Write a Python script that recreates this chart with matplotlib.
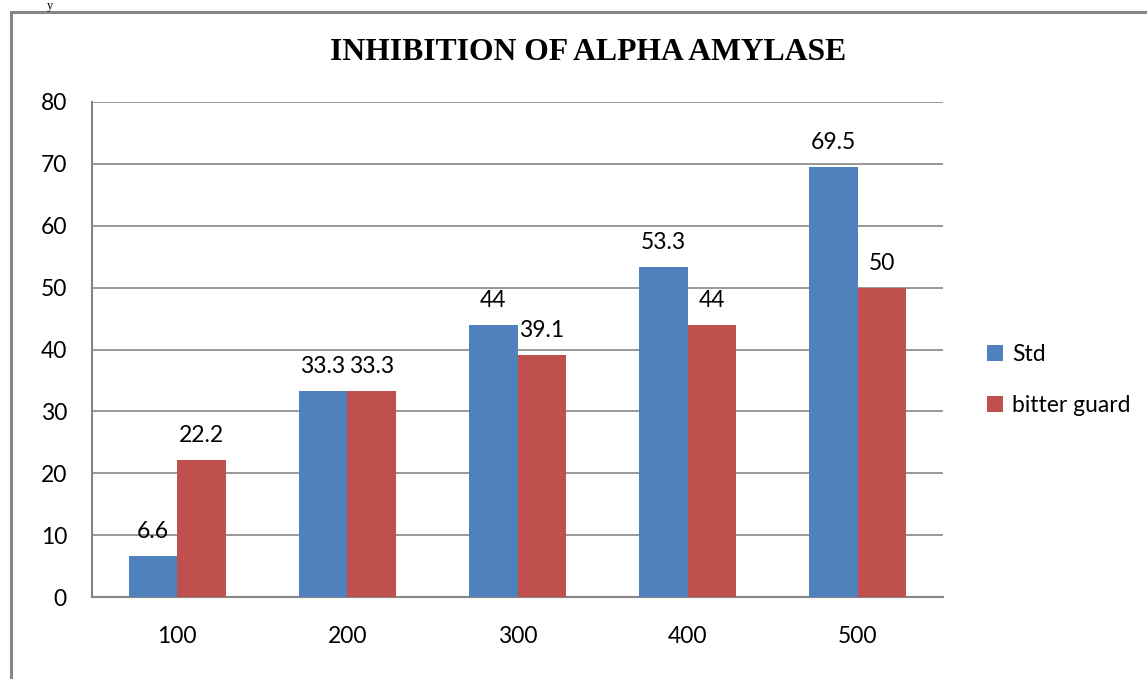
import matplotlib
matplotlib.use("Agg")
import matplotlib.pyplot as plt
import numpy as np
from matplotlib.patches import Rectangle

categories = ["100", "200", "300", "400", "500"]
std_vals = [6.6, 33.3, 44, 53.3, 69.5]
bg_vals = [22.2, 33.3, 39.1, 44, 50]
series_names = ["Std", "bitter guard"]
yticks = [0, 10, 20, 30, 40, 50, 60, 70, 80]

blue = "#4F81BD"
red = "#C0504D"
gray = "#868686"
font = "Lato"
fs = 16.5

fig = plt.figure(figsize=(11.47, 6.79), dpi=100)
ax = fig.add_axes([92/1147, 1-597/679, (943-92)/1147, (597-102)/679])

x = np.arange(len(categories))
w = 0.285
b1 = ax.bar(x - w/2, std_vals, w, color=blue, label=series_names[0], zorder=3)
b2 = ax.bar(x + w/2, bg_vals, w, color=red, label=series_names[1], zorder=3)

for bars, vals in ((b1, std_vals), (b2, bg_vals)):
    for r, v in zip(bars, vals):
        ax.annotate(f"{v:g}", (r.get_x() + r.get_width()/2, v), xytext=(0, 10),
                    textcoords="offset points", ha="center", va="bottom",
                    fontsize=fs, family=font, color="black")

ax.set_xlim(-0.5, len(categories) - 0.5)
ax.set_ylim(0, 80)
ax.set_yticks(yticks)
ax.set_xticks(x)
ax.set_xticklabels(categories)
ax.tick_params(length=0, labelsize=fs, pad=21)
ax.tick_params(axis="y", pad=18)
for lab in ax.get_xticklabels() + ax.get_yticklabels():
    lab.set_family(font)
ax.yaxis.grid(True, color=gray, linewidth=1.2, zorder=0)
ax.set_axisbelow(True)
for s in ["top", "right"]:
    ax.spines[s].set_visible(False)
for s in ["left", "bottom"]:
    ax.spines[s].set_color(gray)
    ax.spines[s].set_linewidth(1.5)

fig.text(588/1147, 1-52/679, "INHIBITION OF ALPHA AMYLASE", ha="center", va="center",
         fontsize=22.8, fontweight="bold", family="Liberation Serif")

leg = fig.legend(handles=[b1, b2], loc="center left", bbox_to_anchor=(966/1147, 1-380/679),
                 frameon=False, prop={"family": font, "size": fs},
                 handlelength=0.7, handleheight=0.7, handletextpad=0.4, labelspacing=1.3)

fig.patches.append(Rectangle((11/1147, -0.05), 1.2, 1-12/679 + 0.05, transform=fig.transFigure,
                             fill=False, edgecolor=gray, linewidth=2.2, zorder=0))
fig.text(50/1147, 1.0, "y", ha="center", va="top", fontsize=9, family="Liberation Serif")

fig.savefig("out.png", dpi=100)
